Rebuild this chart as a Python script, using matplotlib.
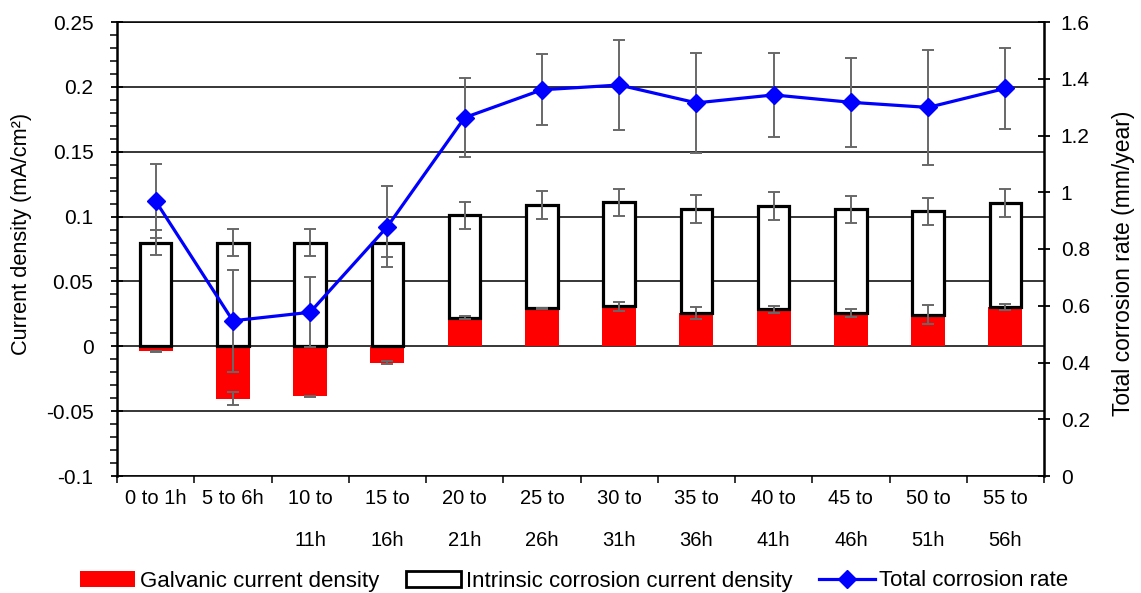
import matplotlib
matplotlib.use("Agg")
import matplotlib.pyplot as plt
import numpy as np
from matplotlib.patches import Patch
from matplotlib.lines import Line2D
from matplotlib.ticker import MultipleLocator

plt.rcParams['font.family'] = ['Liberation Sans', 'DejaVu Sans']

# ---- data ----
categories = ["0 to 1h", "5 to 6h", "10 to\n11h", "15 to\n16h", "20 to\n21h", "25 to\n26h",
              "30 to\n31h", "35 to\n36h", "40 to\n41h", "45 to\n46h", "50 to\n51h", "55 to\n56h"]
galvanic = [-0.004, -0.0405, -0.0385, -0.0125, 0.022, 0.0295, 0.031, 0.0258, 0.0285, 0.0258, 0.0245, 0.0303]
galvanic_err = [0.0005, 0.005, 0.0005, 0.0015, 0.0012, 0.0004, 0.0035, 0.0048, 0.0026, 0.0033, 0.0071, 0.0023]
intrinsic = [0.080, 0.080, 0.080, 0.080, 0.079, 0.0795, 0.080, 0.0798, 0.0795, 0.0797, 0.0796, 0.080]
intrinsic_err = [0.010, 0.0105, 0.0103, 0.011, 0.0105, 0.0105, 0.0106, 0.0108, 0.011, 0.0106, 0.0103, 0.0108]
total_rate = [0.969, 0.547, 0.577, 0.879, 1.263, 1.361, 1.378, 1.315, 1.343, 1.317, 1.299, 1.366]
total_err = [0.129, 0.179, 0.123, 0.142, 0.139, 0.125, 0.158, 0.177, 0.148, 0.157, 0.202, 0.144]

left_ticks = [-0.1, -0.05, 0, 0.05, 0.1, 0.15, 0.2, 0.25]
left_labels = ["-0.1", "-0.05", "0", "0.05", "0.1", "0.15", "0.2", "0.25"]
right_ticks = [0, 0.2, 0.4, 0.6, 0.8, 1.0, 1.2, 1.4, 1.6]
right_labels = ["0", "0.2", "0.4", "0.6", "0.8", "1", "1.2", "1.4", "1.6"]

RED = '#FF0000'
BLUE = '#0000FF'
ERR = '#686868'

fig = plt.figure(figsize=(11.41, 5.93), dpi=100)
ax = fig.add_axes([117 / 1141, 1 - 476 / 593, 927 / 1141, 454 / 593])

n = len(categories)
x = np.arange(n)
galv = np.array(galvanic)
intr = np.array(intrinsic)
stack_base = np.maximum(galv, 0)

ax.set_axisbelow(True)
ax.grid(axis='y', which='major', color='black', lw=1.1)

ax.bar(x, galv, width=0.44, color=RED, zorder=2)
ax.bar(x, intr, bottom=stack_base, width=0.41, facecolor='white',
       edgecolor='black', lw=2.3, zorder=3)
ax.errorbar(x, galv, yerr=galvanic_err, fmt='none', ecolor=ERR,
            elinewidth=1.4, capsize=4.5, capthick=1.4, zorder=4)
ax.errorbar(x, stack_base + intr, yerr=intrinsic_err, fmt='none', ecolor=ERR,
            elinewidth=1.4, capsize=4.5, capthick=1.4, zorder=4)

ax.set_xlim(-0.5, n - 0.5)
ax.set_ylim(-0.1, 0.25)
ax.set_yticks(left_ticks)
ax.set_yticklabels(left_labels)
ax.yaxis.set_minor_locator(MultipleLocator(0.01))
ax.tick_params(axis='y', which='major', direction='inout', length=8, width=1.3,
               labelsize=15, pad=13)
ax.tick_params(axis='y', which='minor', direction='out', length=5, width=1.1)

# category separators as major ticks, labels centred on minor ticks
ax.set_xticks(np.arange(n + 1) - 0.5)
ax.set_xticklabels([])
ax.set_xticks(x, minor=True)
ax.set_xticklabels(categories, minor=True, fontsize=14.5, linespacing=2.6)
ax.tick_params(axis='x', which='major', direction='out', length=5, width=1.1)
ax.tick_params(axis='x', which='minor', length=0, pad=9)

for side in ['top', 'bottom']:
    ax.spines[side].set_linewidth(1.1)
ax.spines['left'].set_linewidth(1.8)

ax.set_ylabel("Current density (mA/cm²)", fontsize=15.7)
ax.yaxis.set_label_coords(-0.0917, 0.533)

ax2 = ax.twinx()
ax2.set_ylim(0, 1.6)
ax2.set_yticks(right_ticks)
ax2.set_yticklabels(right_labels)
ax2.tick_params(axis='y', which='major', direction='inout', length=8, width=1.3,
                labelsize=15, pad=8)
ax2.spines['right'].set_linewidth(1.8)
for side in ['top', 'bottom', 'left']:
    ax2.spines[side].set_visible(False)

ax2.errorbar(x, total_rate, yerr=total_err, fmt='none', ecolor=ERR,
             elinewidth=1.4, capsize=4.5, capthick=1.4, zorder=4)
ax2.plot(x, total_rate, color=BLUE, lw=2.3, marker='D', ms=9,
         markeredgecolor=BLUE, zorder=5)
ax2.set_ylabel("Total corrosion rate (mm/year)", fontsize=16.5, rotation=90)
ax2.yaxis.set_label_coords(1.073, 0.469)

handles = [
    Patch(facecolor=RED, edgecolor='none'),
    Patch(facecolor='white', edgecolor='black', lw=2.0),
    Line2D([], [], color=BLUE, lw=2.3, marker='D', ms=9),
]
labels = ["Galvanic current density", "Intrinsic corrosion current density",
          "Total corrosion rate"]
fig.legend(handles, labels, loc='center', bbox_to_anchor=(574 / 1141, 1 - 581 / 593),
           ncol=3, frameon=False, fontsize=16, handlelength=2.5,
           handletextpad=0.2, columnspacing=1.2)

fig.savefig("out.png", dpi=100)
